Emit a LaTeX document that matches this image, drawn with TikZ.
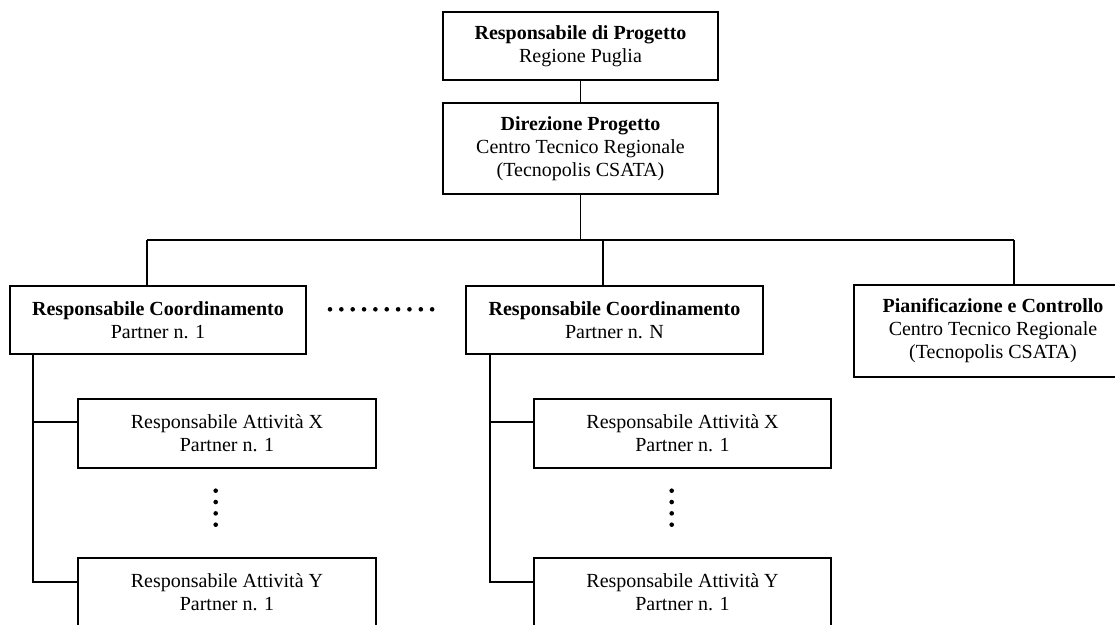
\documentclass[tikz,border=0pt]{standalone}
\usepackage{fontspec}
\setmainfont{Liberation Serif}
\usetikzlibrary{calc}
\begin{document}
\begin{tikzpicture}[x=1pt,y=-1pt,
  box/.style={draw, line width=1.6pt, inner sep=0pt, align=center,
    font=\fontsize{20}{23}\selectfont, fill=white},
  link/.style={line width=1.6pt},
  dot/.style={fill=black}]
\useasboundingbox (0,0) rectangle (1115,624);
\clip (0,0) rectangle (1115,624);

% management boxes
\node[box, minimum width=275pt, minimum height=68pt] (top) at (580.5,46)
  {\textbf{Responsabile di Progetto}\\Regione Puglia};
\node[box, minimum width=275pt, minimum height=91pt] (dir) at (580.5,148.5)
  {\textbf{Direzione Progetto}\\Centro Tecnico Regionale\\(Tecnopolis CSATA)};

% coordination level
\node[box, minimum width=296pt, minimum height=68pt] (c1) at (158,320)
  {\textbf{Responsabile Coordinamento}\\Partner n. 1};
\node[box, minimum width=297pt, minimum height=68pt] (cN) at (614.5,320)
  {\textbf{Responsabile Coordinamento}\\Partner n. N};
\node[box, minimum width=278pt, minimum height=92pt] (pian) at (993,331)
  {\textbf{Pianificazione e Controllo}\\Centro Tecnico Regionale\\(Tecnopolis CSATA)};

% activity level
\node[box, minimum width=298pt, minimum height=69pt] (ax1) at (227,433.5)
  {Responsabile Attività X\\Partner n. 1};
\node[box, minimum width=298pt, minimum height=69pt] (ay1) at (227,592.5)
  {Responsabile Attività Y\\Partner n. 1};
\node[box, minimum width=297pt, minimum height=69pt] (axN) at (682.5,433.5)
  {Responsabile Attività X\\Partner n. 1};
\node[box, minimum width=297pt, minimum height=69pt] (ayN) at (682.5,592.5)
  {Responsabile Attività Y\\Partner n. 1};

% bus coordinates
\coordinate (b1) at (147,240);
\coordinate (bN) at (603,240);
\coordinate (bP) at (1014,240);
\coordinate (s1) at (33,0);
\coordinate (sN) at (490,0);

% connectors
\draw[link] (top.south) -- (dir.north);
\draw[link] (dir.south) -- (dir.south |- b1);
\draw[link] (b1) -- (bP);
\draw[link] (b1) -- (b1 |- c1.north);
\draw[link] (bN) -- (bN |- cN.north);
\draw[link] (bP) -- (bP |- pian.north);

\draw[link] (s1 |- c1.south) |- ($(ay1.west)+(0,-10.5)$);
\draw[link] (s1 |- ax1.west) ++(0,-11.5) -- ($(ax1.west)+(0,-11.5)$);
\draw[link] (sN |- cN.south) |- ($(ayN.west)+(0,-10.5)$);
\draw[link] (sN |- axN.west) ++(0,-11.5) -- ($(axN.west)+(0,-11.5)$);

% ellipsis dots
\foreach \i in {0,...,9}
  \fill[dot] (330+\i*11.35,309.3) circle (2.3pt);
\foreach \i in {0,...,3} {
  \fill[dot] (215.7,490.7+\i*11.33) circle (2.3pt);
  \fill[dot] (671.7,490.7+\i*11.33) circle (2.3pt);
}
\end{tikzpicture}
\end{document}
